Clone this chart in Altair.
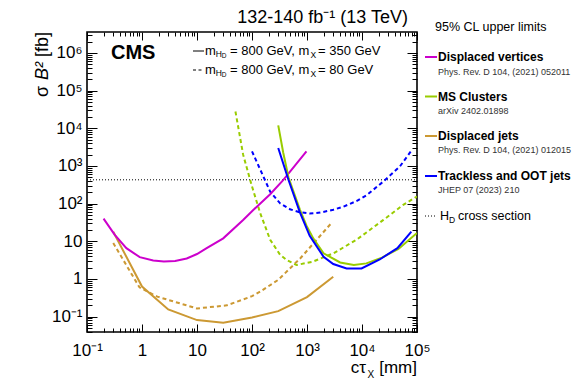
import altair as alt
import pandas as pd

FONT = "Liberation Sans"

# ---------------- data ----------------
# Displaced vertices, m_X = 350 GeV (solid)
dv_x = [0.2, 0.32, 0.52, 0.91, 1.6, 2.5, 4, 6.5, 10, 15, 30, 69, 100, 214, 372, 977]
dv_y = [40, 14.8, 6.6, 3.8, 3.1, 2.9, 3.0, 3.5, 4.6, 6.6, 12, 37, 63, 178, 427, 2450]
# MS clusters, m_X = 350 GeV (solid)
ms_x = [300, 370, 460, 740, 980, 1300, 2000, 4000, 7100, 12000, 23000, 46000, 100000]
ms_y = [12000, 2240, 500, 71, 26, 12, 4.8, 2.75, 2.35, 2.6, 3.7, 6.3, 16.6]
# MS clusters, m_X = 80 GeV (dashed)
ms80_x = [50, 69, 98, 141, 214, 324, 427, 646, 1290, 3020, 7940, 24500, 56200, 100000]
ms80_y = [28000, 2000, 316, 56, 11, 4.4, 3.2, 2.35, 2.9, 4.8, 11, 37, 93, 155]
# Displaced jets, m_X = 350 GeV (solid)
dj_x = [0.3, 1, 3, 10, 30, 100, 300, 1000, 3000]
dj_y = [18, 0.63, 0.155, 0.081, 0.069, 0.095, 0.14, 0.33, 1.15]
# Displaced jets, m_X = 80 GeV (dashed)
dj80_x = [0.3, 0.9, 1.9, 10, 35, 100, 140, 300, 750, 2800]
dj80_y = [9, 0.6, 0.34, 0.165, 0.2, 0.35, 0.46, 0.95, 3.5, 31]
# Trackless and OOT jets, m_X = 350 GeV (solid)
tr_x = [300, 460, 740, 1120, 2000, 3000, 5250, 9800, 21000, 44000, 79000]
tr_y = [3000, 430, 60, 14, 3.9, 2.5, 1.9, 1.9, 3.3, 6.6, 18]
# Trackless and OOT jets, m_X = 80 GeV (dashed)
tr80_x = [100, 151, 214, 324, 490, 741, 1120, 1740, 3020, 4570, 7940, 12300, 24500, 49000, 79400]
tr80_y = [2450, 646, 209, 102, 71, 59, 55, 58, 69, 83, 117, 170, 389, 977, 2570]
# H_D cross section
hd_x = [0.1, 100000]
hd_y = [430, 430]

x_tick_labels = ["10⁻¹", "1", "10", "10²", "10³", "10⁴", "10⁵"]
y_tick_labels = ["10⁻¹", "1", "10", "10²", "10³", "10⁴", "10⁵", "10⁶"]

legend_names = ["Displaced vertices", "MS Clusters", "Displaced jets", "Trackless and OOT jets"]
legend_refs = ["Phys. Rev. D 104, (2021) 052011", "arXiv 2402.01898",
               "Phys. Rev. D 104, (2021) 012015", "JHEP 07 (2023) 210"]

C_DV, C_MS, C_DJ, C_TR = "#CC00CC", "#99CC00", "#CC9933", "#0000FF"
legend_colors = [C_DV, C_MS, C_DJ, C_TR]

# ---------------- scales ----------------
W, H = 330, 300
XMIN, XMAX = 0.1, 1e5
YMIN, YMAX = 10 ** -1.407, 10 ** 6.557
xsc = alt.Scale(type="log", domain=[XMIN, XMAX])
ysc = alt.Scale(type="log", domain=[YMIN, YMAX])

def df_of(xs, ys):
    return pd.DataFrame({"x": xs, "y": ys})

def line(xs, ys, color, dashed=False, width=2.0, dash=None):
    kw = dict(color=color, strokeWidth=width, clip=True)
    if dash is not None:
        kw["strokeDash"] = dash
    elif dashed:
        kw["strokeDash"] = [4, 3]
    return alt.Chart(df_of(xs, ys)).mark_line(**kw).encode(
        x=alt.X("x:Q", scale=xsc, axis=None),
        y=alt.Y("y:Q", scale=ysc, axis=None),
    )

layers = []

# axis labels layer
xmaj = [10.0 ** k for k in range(-1, 6)]
ymaj = [10.0 ** k for k in range(-1, 7)]
xlab_expr = "[" + ",".join("'%s'" % s for s in x_tick_labels) + "][round(log(datum.value)/LN10)+1]"
ylab_expr = "[" + ",".join("'%s'" % s for s in y_tick_labels) + "][round(log(datum.value)/LN10)+1]"

layers.append(
    alt.Chart(df_of(dv_x, dv_y)).mark_line(opacity=0).encode(
        x=alt.X("x:Q", scale=xsc, axis=alt.Axis(
            orient="bottom", values=xmaj, labelExpr=xlab_expr, ticks=False, domain=False,
            grid=False, title=None, labelFont=FONT, labelFontSize=17, labelPadding=10,
            labelColor="black", labelFlush=False, labelOverlap=False)),
        y=alt.Y("y:Q", scale=ysc, axis=alt.Axis(
            orient="left", values=ymaj, labelExpr=ylab_expr, ticks=False, domain=False,
            grid=False, title=None, labelFont=FONT, labelFontSize=17, labelPadding=5,
            labelColor="black", labelFlush=False, labelOverlap=False)),
    )
)

# tick layers (inward ticks on all four sides)
def minors(lo, hi, kmin, kmax):
    out = []
    for k in range(kmin, kmax + 1):
        for m in range(2, 10):
            v = m * 10.0 ** k
            if lo <= v <= hi:
                out.append(v)
    return out

xmin_ticks = minors(XMIN, XMAX, -1, 4)
ymin_ticks = minors(YMIN, YMAX, -2, 6)

def tick_layer(channel, orient, values, size):
    ax = alt.Axis(orient=orient, values=values, labels=False, ticks=True, tickSize=size,
                  tickColor="black", tickWidth=1, domain=False, grid=False, title=None,
                  offset=-size)
    if channel == "x":
        enc = dict(x=alt.X("x:Q", scale=xsc, axis=ax), y=alt.Y("y:Q", scale=ysc, axis=None))
    else:
        enc = dict(x=alt.X("x:Q", scale=xsc, axis=None), y=alt.Y("y:Q", scale=ysc, axis=ax))
    return alt.Chart(df_of(dv_x, dv_y)).mark_line(opacity=0).encode(**enc)

for orient in ["bottom", "top"]:
    layers.append(tick_layer("x", orient, xmaj, 8))
    layers.append(tick_layer("x", orient, xmin_ticks, 4))
for orient in ["left", "right"]:
    layers.append(tick_layer("y", orient, ymaj, 10))
    layers.append(tick_layer("y", orient, ymin_ticks, 5))

# data curves
layers += [
    line(hd_x, hd_y, "black", width=1, dash=[1, 2]),
    line(dj80_x, dj80_y, C_DJ, dashed=True),
    line(dj_x, dj_y, C_DJ),
    line(ms80_x, ms80_y, C_MS, dashed=True),
    line(tr80_x, tr80_y, C_TR, dashed=True),
    line(dv_x, dv_y, C_DV),
    line(ms_x, ms_y, C_MS),
    line(tr_x, tr_y, C_TR),
]

# ---------------- text helpers ----------------
def txt(s, x, y, size, weight="normal", align="left", baseline="middle", angle=0,
        color="black", style="normal"):
    return alt.Chart(pd.DataFrame({"t": [s]})).mark_text(
        align=align, baseline=baseline, fontSize=size, fontWeight=weight, font=FONT,
        color=color, angle=angle, fontStyle=style).encode(
        text="t:N", x=alt.value(x), y=alt.value(y))

def rule(x1, x2, y, color, width=2, dash=None):
    kw = dict(color=color, strokeWidth=width)
    if dash is not None:
        kw["strokeDash"] = dash
    return alt.Chart(pd.DataFrame({"a": [0]})).mark_rule(**kw).encode(
        x=alt.value(x1), x2=alt.value(x2), y=alt.value(y))

# title
layers.append(txt("132-140 fb⁻¹ (13 TeV)", 321, -14, 18, align="right"))
# CMS
layers.append(txt("CMS", 24, 21, 20, weight="bold"))

# mass legend in the frame
for row, (yy, mx, dash) in enumerate([(19, "= 350 GeV", None), (38, "= 80 GeV", [3, 2.5])]):
    layers.append(rule(106, 117, yy, "black", width=1, dash=dash))
    layers.append(txt("m", 118, yy, 13))
    layers.append(txt("H", 128.8, yy + 3, 8.5))
    layers.append(txt("D", 134.8, yy + 5, 6.5))
    layers.append(txt("= 800 GeV, m", 143, yy, 13))
    layers.append(txt("X", 223.5, yy + 4, 8.5))
    layers.append(txt(mx, 231, yy, 13))

# y title (rotated, reads bottom to top, ends at the top of the frame)
layers.append(txt("[fb]", -44, 0, 18, align="right", angle=270))
layers.append(txt("B²", -44, 30, 18, align="right", angle=270, style="italic"))
layers.append(txt("σ", -44, 54, 18, align="right", angle=270))

# x title
layers.append(txt("[mm]", 330, 336, 17, align="right"))
layers.append(txt("X", 280.5, 343, 10))
layers.append(txt("cτ", 279, 336, 17, align="right"))

# right-hand legend
layers.append(txt("95% CL upper limits", 348, -5, 12.5))
name_y = [25, 64.5, 104, 144]
ref_y = [40, 79, 118, 158]
for nm, rf, c, ny, ry in zip(legend_names, legend_refs, legend_colors, name_y, ref_y):
    layers.append(rule(338, 350, ny, c, width=2))
    layers.append(txt(nm, 351, ny, 12, weight="bold"))
    layers.append(txt(rf, 351, ry, 9, color="#333333"))
layers.append(rule(338, 350, 184, "black", width=1, dash=[1, 2]))
layers.append(txt("H", 353, 184, 12.5))
layers.append(txt("D", 362, 188, 8.5))
layers.append(txt("cross section", 371, 184, 12.5))

chart = alt.layer(*layers).properties(
    width=W, height=H,
    padding={"left": 79, "top": 24, "right": 155, "bottom": 50},
    autosize=alt.AutoSizeParams(type="none"),
).resolve_axis(x="independent", y="independent").configure_view(
    stroke="black", strokeWidth=1.6)

chart.save("out.html", embed_options={"renderer": "svg", "actions": False})
